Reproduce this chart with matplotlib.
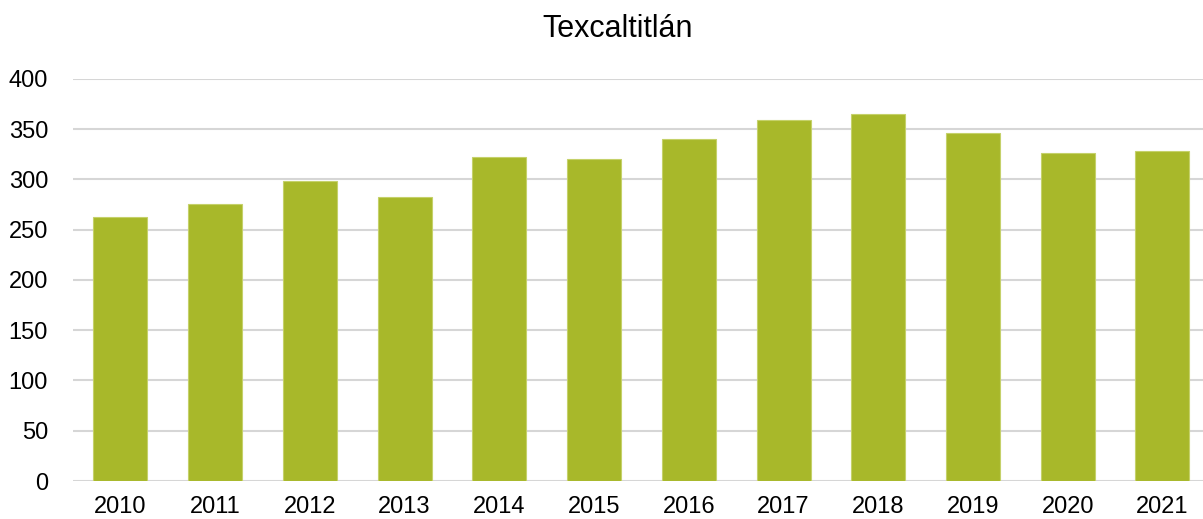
import matplotlib
matplotlib.use('Agg')
import matplotlib.pyplot as plt

years = ['2010', '2011', '2012', '2013', '2014', '2015',
         '2016', '2017', '2018', '2019', '2020', '2021']
values = [263, 275, 298, 282, 322, 320, 340, 359, 365, 346, 326, 328]

plt.rcParams['font.family'] = ['Liberation Sans', 'DejaVu Sans']

fig = plt.figure(figsize=(12.03, 5.19), dpi=100)
ax = fig.add_axes([0.0607, 0.0732, 0.945, 0.775])

ax.bar(range(len(years)), values, width=0.57, color='#A8B82A',
       edgecolor='#C5D16A', linewidth=0.8, zorder=3)

ax.set_xlim(-0.5, len(years) - 0.5)
ax.set_ylim(0, 400)
ax.set_yticks(range(0, 401, 50))
ax.set_xticks(range(len(years)))
ax.set_xticklabels(years)
ax.yaxis.grid(True, color='#D6D6D6', linewidth=1.5, zorder=0)
ax.tick_params(axis='both', length=0, labelsize=17, colors='#000000')
ax.tick_params(axis='y', pad=18)
ax.tick_params(axis='x', pad=11)
for s in ax.spines.values():
    s.set_visible(False)

fig.text(0.513, 0.945, 'Texcaltitlán', ha='center', va='center', fontsize=22)

fig.savefig('out.png', dpi=100)
